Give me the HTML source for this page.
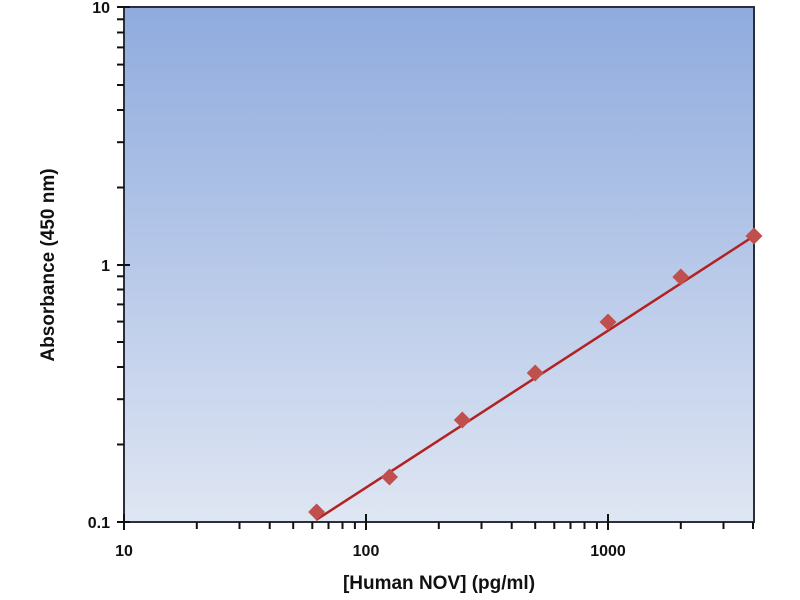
<!DOCTYPE html>
<html><head><meta charset="utf-8"><style>body{margin:0;background:#fff}svg{display:block}</style></head><body>
<svg width="800" height="600" xmlns="http://www.w3.org/2000/svg" font-family="Liberation Sans, sans-serif">
<defs><linearGradient id="g" x1="0" y1="0" x2="0" y2="1"><stop offset="0" stop-color="#8fabde"/><stop offset="1" stop-color="#dfe6f3"/></linearGradient></defs>
<rect x="124" y="7" width="630" height="515" fill="url(#g)" stroke="#2a2f3a" stroke-width="2"/>
<g stroke="#111" stroke-width="2">
<line x1="124" y1="514" x2="124" y2="530"/><line x1="366" y1="514" x2="366" y2="530"/><line x1="608" y1="514" x2="608" y2="530"/>
<line x1="196.8" y1="522" x2="196.8" y2="529"/><line x1="239.5" y1="522" x2="239.5" y2="529"/><line x1="269.7" y1="522" x2="269.7" y2="529"/><line x1="293.2" y1="522" x2="293.2" y2="529"/><line x1="312.3" y1="522" x2="312.3" y2="529"/><line x1="328.5" y1="522" x2="328.5" y2="529"/><line x1="342.5" y1="522" x2="342.5" y2="529"/><line x1="354.9" y1="522" x2="354.9" y2="529"/>
<line x1="438.8" y1="522" x2="438.8" y2="529"/><line x1="481.5" y1="522" x2="481.5" y2="529"/><line x1="511.7" y1="522" x2="511.7" y2="529"/><line x1="535.2" y1="522" x2="535.2" y2="529"/><line x1="554.3" y1="522" x2="554.3" y2="529"/><line x1="570.5" y1="522" x2="570.5" y2="529"/><line x1="584.5" y1="522" x2="584.5" y2="529"/><line x1="596.9" y1="522" x2="596.9" y2="529"/>
<line x1="680.8" y1="522" x2="680.8" y2="529"/><line x1="723.5" y1="522" x2="723.5" y2="529"/><line x1="753" y1="522" x2="753" y2="529"/>
<line x1="117" y1="522" x2="130" y2="522"/><line x1="117" y1="265" x2="130" y2="265"/><line x1="117" y1="7" x2="130" y2="7"/>
<line x1="117" y1="444.5" x2="124" y2="444.5"/><line x1="117" y1="399.2" x2="124" y2="399.2"/><line x1="117" y1="367" x2="124" y2="367"/><line x1="117" y1="342" x2="124" y2="342"/><line x1="117" y1="321.6" x2="124" y2="321.6"/><line x1="117" y1="304.4" x2="124" y2="304.4"/><line x1="117" y1="289.5" x2="124" y2="289.5"/><line x1="117" y1="276.3" x2="124" y2="276.3"/>
<line x1="117" y1="187.5" x2="124" y2="187.5"/><line x1="117" y1="142.2" x2="124" y2="142.2"/><line x1="117" y1="110" x2="124" y2="110"/><line x1="117" y1="85" x2="124" y2="85"/><line x1="117" y1="64.6" x2="124" y2="64.6"/><line x1="117" y1="47.4" x2="124" y2="47.4"/><line x1="117" y1="32.5" x2="124" y2="32.5"/><line x1="117" y1="19.3" x2="124" y2="19.3"/>
</g>
<line x1="316" y1="520" x2="754" y2="236" stroke="#b22222" stroke-width="2.5"/>
<g fill="#c0504d">
<rect x="310.6" y="506" width="12" height="12" transform="rotate(45 316.6 512)"/>
<rect x="383.5" y="471" width="12" height="12" transform="rotate(45 389.5 477)"/>
<rect x="456.3" y="414" width="12" height="12" transform="rotate(45 462.3 420)"/>
<rect x="529.2" y="367" width="12" height="12" transform="rotate(45 535.2 373)"/>
<rect x="602" y="316" width="12" height="12" transform="rotate(45 608 322)"/>
<rect x="674.8" y="271" width="12" height="12" transform="rotate(45 680.8 277)"/>
<rect x="748" y="230" width="12" height="12" transform="rotate(45 754 236)"/>
</g>
<g font-size="16" fill="#111" font-weight="bold">
<text x="110" y="528" text-anchor="end">0.1</text>
<text x="110" y="271" text-anchor="end">1</text>
<text x="110" y="13" text-anchor="end">10</text>
<text x="124" y="556" text-anchor="middle">10</text>
<text x="366" y="556" text-anchor="middle">100</text>
<text x="608" y="556" text-anchor="middle">1000</text>
</g>
<text x="439" y="589" text-anchor="middle" font-size="19" font-weight="bold" fill="#111">[Human NOV] (pg/ml)</text>
<text transform="translate(54,265) rotate(-90)" text-anchor="middle" font-size="19" font-weight="bold" fill="#111">Absorbance (450 nm)</text>
</svg>
</body></html>
